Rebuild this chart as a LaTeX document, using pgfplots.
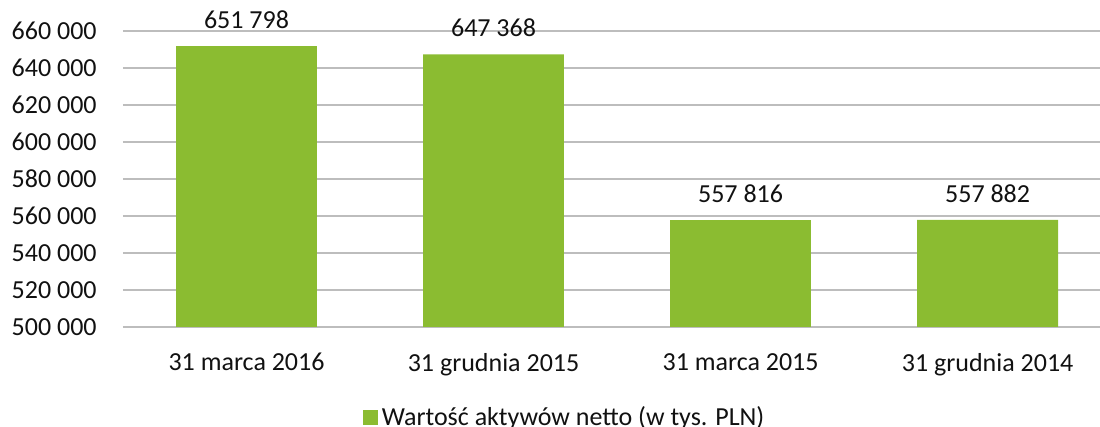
\documentclass[border=0pt]{standalone}
\usepackage{pgfplots}
\pgfplotsset{compat=1.18}
\usepackage{fontspec}
\setmainfont{Carlito}
\definecolor{barg}{HTML}{8BBC31}
\definecolor{gridg}{HTML}{BDBDBD}
\definecolor{txt}{HTML}{111111}
\begin{document}
\fontsize{13bp}{15bp}\selectfont
\begin{tikzpicture}
\begin{axis}[
  at={(0,0)}, anchor=south west,
  scale only axis,
  width=488.5bp, height=148bp,
  xmin=-0.5, xmax=3.455,
  ymin=500000, ymax=660000,
  ytick={500000,520000,...,660000},
  scaled y ticks=false,
  xtick={0,1,2,3},
  xticklabels={31 marca 2016,31 grudnia 2015,31 marca 2015,31 grudnia 2014},
  major tick length=0pt,
  axis line style={draw=none},
  ymajorgrids, grid style={gridg, line width=1bp},
  yticklabel style={inner sep=0pt, anchor=east, xshift=-13bp, text=txt,
    /pgf/number format/.cd, fixed, 1000 sep={\ }, assume math mode=true},
  xticklabel style={inner sep=0pt, anchor=north, yshift=-13bp, text=txt},
  ybar, bar width=0.57,
  point meta=explicit symbolic,
  nodes near coords,
  nodes near coords style={anchor=south, inner sep=0pt, yshift=8.5bp, text=txt},
  legend style={draw=none, at={(0.453,-0.307)}, anchor=center, inner sep=0pt,
    text=txt, cells={anchor=west}, /tikz/every even column/.append style={column sep=3bp}},
  legend image code/.code={\fill[#1] (0bp,-3.75bp) rectangle (7.5bp,3.75bp);},
]
\addplot[fill=barg, draw=none] coordinates {
  (0,651798) [651 798]
  (1,647368) [647 368]
  (2,557816) [557 816]
  (3,557882) [557 882]
};
\addlegendentry{Wartość aktywów netto (w tys. PLN)}
\end{axis}
\pgfresetboundingbox
\path (-61.5bp,-50bp) rectangle (488.5bp,163.5bp);
\end{tikzpicture}
\end{document}
